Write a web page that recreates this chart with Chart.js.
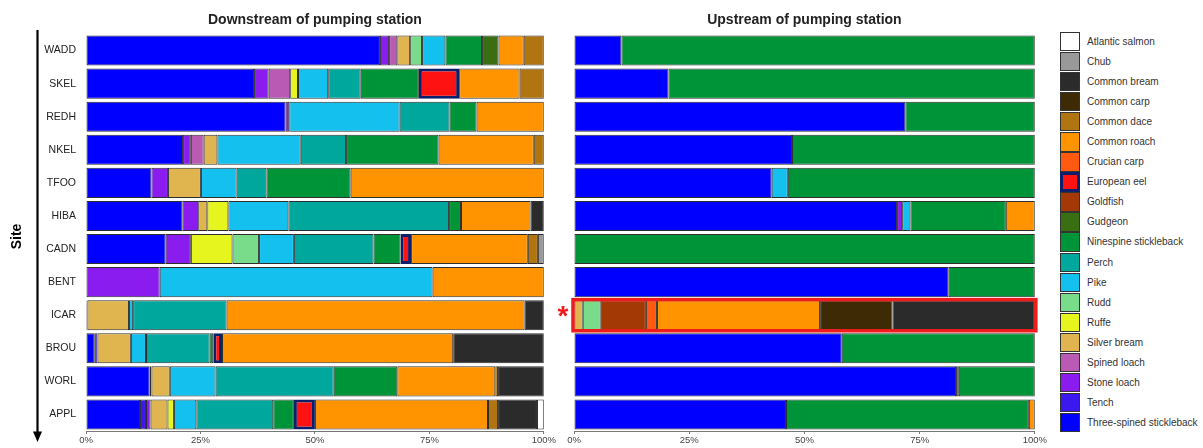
<!DOCTYPE html>
<html lang="en">
<head>
<meta charset="UTF-8">
<title>Fish community composition by site</title>
<script src="https://cdn.jsdelivr.net/npm/chart.js"></script>
<style>
  body { margin: 0; background: #fff; font-family: 'Liberation Sans', Arial, sans-serif; }
  #wrap { position: relative; width: 1203px; height: 448px; overflow: hidden; }
  #down { position: absolute; left: 0; top: 0; }
  #up { position: absolute; left: 548px; top: 0; }
  #legend { position: absolute; left: 1060px; top: 32px; }
  .item { height: 20.06px; display: flex; align-items: flex-start; }
  .sw { width: 20px; height: 19.3px; box-sizing: border-box; border: 1px solid #333; }
  .lab { margin-left: 7px; font-size: 10px; color: #333; line-height: 19px; white-space: nowrap; }
</style>
</head>
<body>
<div id="wrap">
  <canvas id="down" width="557" height="448"></canvas>
  <canvas id="up" width="500" height="448"></canvas>
  <div id="legend"></div>
</div>
<script>
// sites, top to bottom
const sites = ['WADD', 'SKEL', 'REDH', 'NKEL', 'TFOO', 'HIBA', 'CADN', 'BENT', 'ICAR', 'BROU', 'WORL', 'APPL'];

// stacking order, left to right (legend shows it reversed)
const species = [
  'Three-spined stickleback', 'Tench', 'Stone loach', 'Spined loach', 'Silver bream',
  'Ruffe', 'Rudd', 'Pike', 'Perch', 'Ninespine stickleback', 'Gudgeon', 'Goldfish',
  'European eel', 'Crucian carp', 'Common roach', 'Common dace', 'Common carp',
  'Common bream', 'Chub', 'Atlantic salmon'
];

const colours = [
  '#0000fe', '#3a18ee', '#8a1cf0', '#b95bb5', '#e0b44e',
  '#e6f51e', '#79dc8a', '#14c0ee', '#00a79d', '#009438', '#3a6e12', '#a33a06',
  '#ff1212', '#ff5a10', '#ff9400', '#b07410', '#3f2a06',
  '#2b2b2b', '#999999', '#ffffff'
];

// % of catch per species (rows follow `species`, columns follow `sites`)
const downstreamPct = [
  [64.2, 36.7, 43.6, 21.2, 14.3, 21.1, 17.4, 0, 0.3, 1.8, 13.9, 11.8], // three-spined stickleback
  [0, 0, 0, 0, 0, 0, 0, 0, 0, 0.7, 0.4, 1.3],                           // tench
  [2.0, 3.2, 0.8, 1.7, 3.6, 3.4, 5.5, 16.1, 0, 0, 0, 1.0],              // stone loach
  [1.8, 4.7, 0, 2.8, 0, 0, 0, 0, 0, 0, 0, 0],                           // spined loach
  [2.8, 0, 0, 3.0, 7.2, 2.0, 0, 0, 9.1, 7.3, 4.0, 3.7],                 // silver bream
  [0, 1.7, 0, 0, 0, 4.6, 9.1, 0, 0, 0, 0, 1.4],                         // ruffe
  [2.6, 0, 0, 0, 0, 0, 5.8, 0, 0, 0, 0, 0],                             // rudd
  [5.1, 6.6, 24.1, 18.2, 7.8, 13.1, 7.6, 59.6, 0.9, 3.3, 10.0, 4.9],    // pike
  [0, 7.1, 10.9, 9.9, 6.5, 35.1, 17.4, 0, 20.4, 13.9, 25.8, 16.8],      // perch
  [8.0, 12.7, 5.9, 20.2, 18.4, 2.6, 5.9, 0, 0, 0.8, 13.9, 4.5],         // ninespine stickleback
  [3.6, 0, 0, 0, 0, 0, 0, 0, 0, 0, 0, 0],                               // gudgeon
  [0, 0, 0, 0, 0, 0, 0, 0, 0, 0, 0, 0],                                 // goldfish
  [0, 8.8, 0, 0, 0, 0, 2.3, 0, 0, 1.9, 0, 4.6],                         // european eel
  [0, 0, 0, 0, 0, 0, 0, 0, 0, 0, 0, 0],                                 // crucian carp
  [5.5, 13.2, 14.7, 20.8, 42.2, 15.2, 25.5, 24.3, 65.1, 50.5, 21.4, 37.8], // common roach
  [4.4, 5.3, 0, 2.2, 0, 0, 2.2, 0, 0, 0, 0.6, 2.2],                     // common dace
  [0, 0, 0, 0, 0, 0, 0, 0, 0, 0, 0, 0],                                 // common carp
  [0, 0, 0, 0, 0, 2.9, 0, 0, 4.2, 19.8, 10.0, 8.5],                     // common bream
  [0, 0, 0, 0, 0, 0, 1.3, 0, 0, 0, 0, 0],                               // chub
  [0, 0, 0, 0, 0, 0, 0, 0, 0, 0, 0, 1.5]                                // atlantic salmon
];

const upstreamPct = [
  [10.3, 20.5, 71.9, 47.3, 42.9, 70.1, 0, 81.3, 0, 58.1, 82.9, 46.0],   // three-spined stickleback
  [0, 0, 0, 0, 0, 0, 0, 0, 0, 0, 0, 0],                                 // tench
  [0, 0, 0, 0, 0, 1.1, 0, 0, 0, 0, 0.6, 0],                             // stone loach
  [0, 0, 0, 0, 0, 0, 0, 0, 0, 0, 0, 0],                                 // spined loach
  [0, 0, 0, 0, 0, 0, 0, 0, 1.9, 0, 0, 0],                               // silver bream
  [0, 0, 0, 0, 0, 0, 0, 0, 0, 0, 0, 0],                                 // ruffe
  [0, 0, 0, 0, 0, 0, 0, 0, 3.9, 0, 0, 0],                               // rudd
  [0, 0, 0, 0, 3.5, 1.8, 0, 0, 0, 0, 0, 0],                             // pike
  [0, 0, 0, 0, 0, 0, 0, 0, 0, 0, 0, 0],                                 // perch
  [89.7, 79.5, 28.1, 52.7, 53.6, 20.7, 100, 18.7, 0, 41.9, 16.5, 52.7], // ninespine stickleback
  [0, 0, 0, 0, 0, 0, 0, 0, 0, 0, 0, 0],                                 // gudgeon
  [0, 0, 0, 0, 0, 0, 0, 0, 9.8, 0, 0, 0],                               // goldfish
  [0, 0, 0, 0, 0, 0, 0, 0, 0, 0, 0, 0],                                 // european eel
  [0, 0, 0, 0, 0, 0, 0, 0, 2.4, 0, 0, 0],                               // crucian carp
  [0, 0, 0, 0, 0, 6.3, 0, 0, 35.4, 0, 0, 1.3],                          // common roach
  [0, 0, 0, 0, 0, 0, 0, 0, 0, 0, 0, 0],                                 // common dace
  [0, 0, 0, 0, 0, 0, 0, 0, 15.7, 0, 0, 0],                              // common carp
  [0, 0, 0, 0, 0, 0, 0, 0, 30.9, 0, 0, 0],                              // common bream
  [0, 0, 0, 0, 0, 0, 0, 0, 0, 0, 0, 0],                                 // chub
  [0, 0, 0, 0, 0, 0, 0, 0, 0, 0, 0, 0]                                  // atlantic salmon
];

const xTicks = [0, 25, 50, 75, 100];
const eel = 'European eel';
const eelBorder = '#0b1f6b';

Chart.defaults.font.family = "'Liberation Sans', Arial, sans-serif";
Chart.defaults.color = '#333';

function buildDatasets(rows) {
  return species.map((name, i) => ({
    label: name,
    data: rows[i].map(v => v > 0 ? v : null),
    backgroundColor: colours[i],
    borderColor: name === eel ? eelBorder : '#2e2e2e',
    borderWidth: name === eel ? 3 : 1,
    borderSkipped: false,
    barPercentage: 0.91,
    categoryPercentage: 1
  }));
}

// bold heading centred over the plot area
const panelTitle = {
  id: 'panelTitle',
  afterDraw(chart, args, opts) {
    const { ctx, chartArea } = chart;
    ctx.save();
    ctx.font = "bold 14px 'Liberation Sans', Arial, sans-serif";
    ctx.fillStyle = '#222';
    ctx.textAlign = 'center';
    ctx.textBaseline = 'middle';
    ctx.fillText(opts.text, (chartArea.left + chartArea.right) / 2, 20);
    ctx.restore();
  }
};

// "Site" label with the downward arrow
const siteArrow = {
  id: 'siteArrow',
  afterDraw(chart) {
    const { ctx, chartArea } = chart;
    const x = 37.5;
    ctx.save();
    ctx.strokeStyle = '#000';
    ctx.fillStyle = '#000';
    ctx.lineWidth = 2.2;
    ctx.beginPath();
    ctx.moveTo(x, chartArea.top - 4);
    ctx.lineTo(x, chartArea.bottom + 2);
    ctx.stroke();
    ctx.beginPath();
    ctx.moveTo(x - 4.5, chartArea.bottom + 0.5);
    ctx.lineTo(x + 4.5, chartArea.bottom + 0.5);
    ctx.lineTo(x, chartArea.bottom + 11);
    ctx.closePath();
    ctx.fill();
    ctx.translate(17, (chartArea.top + chartArea.bottom) / 2 + 4);
    ctx.rotate(-Math.PI / 2);
    ctx.font = "bold 14px 'Liberation Sans', Arial, sans-serif";
    ctx.textAlign = 'center';
    ctx.textBaseline = 'middle';
    ctx.fillText('Site', 0, 0);
    ctx.restore();
  }
};

// red box and asterisk around one site's bar
const siteHighlight = {
  id: 'siteHighlight',
  afterDatasetsDraw(chart, args, opts) {
    const idx = sites.indexOf(opts.site);
    if (idx < 0) return;
    const { ctx } = chart;
    const xs = chart.scales.x;
    let bar = null;
    chart.data.datasets.forEach((ds, i) => {
      if (!bar && ds.data[idx] != null) bar = chart.getDatasetMeta(i).data[idx];
    });
    if (!bar) return;
    const half = bar.height / 2;
    const left = xs.getPixelForValue(0) - 1;
    const right = xs.getPixelForValue(100) + 1;
    ctx.save();
    ctx.strokeStyle = '#ee1c1c';
    ctx.lineWidth = 3.5;
    ctx.strokeRect(left, bar.y - half - 0.5, right - left, 2 * half + 1);
    ctx.fillStyle = '#ee1c1c';
    ctx.font = "bold 28px 'Liberation Sans', Arial, sans-serif";
    ctx.textAlign = 'center';
    ctx.textBaseline = 'middle';
    ctx.fillText('*', left - 10, bar.y + 2);
    ctx.restore();
  }
};

function xScale() {
  return {
    stacked: true,
    min: 0,
    max: 100,
    afterBuildTicks: s => { s.ticks = xTicks.map(v => ({ value: v })); },
    ticks: { callback: v => v + '%', font: { size: 9.5 }, color: '#444', padding: 1, maxRotation: 0 },
    grid: { display: true, drawOnChartArea: false, drawTicks: true, tickLength: 3, color: '#777' },
    border: { display: true, color: '#777' },
    afterFit: s => { s.height = 17; }
  };
}

new Chart(document.getElementById('down'), {
  type: 'bar',
  data: { labels: sites, datasets: buildDatasets(downstreamPct) },
  options: {
    indexAxis: 'y',
    responsive: false,
    animation: false,
    layout: { padding: { left: 0, top: 34, right: 10, bottom: 0 } },
    scales: {
      x: xScale(),
      y: {
        stacked: true,
        grid: { display: false, drawTicks: false },
        border: { display: false },
        ticks: { font: { size: 10.5 }, color: '#222', padding: 10 },
        afterFit: s => { s.width = 86; }
      }
    },
    plugins: {
      legend: { display: false },
      tooltip: { enabled: false },
      panelTitle: { text: 'Downstream of pumping station' }
    }
  },
  plugins: [panelTitle, siteArrow]
});

new Chart(document.getElementById('up'), {
  type: 'bar',
  data: { labels: sites, datasets: buildDatasets(upstreamPct) },
  options: {
    indexAxis: 'y',
    responsive: false,
    animation: false,
    layout: { padding: { left: 26, top: 34, right: 11, bottom: 0 } },
    scales: {
      x: xScale(),
      y: { stacked: true, display: false }
    },
    plugins: {
      legend: { display: false },
      tooltip: { enabled: false },
      panelTitle: { text: 'Upstream of pumping station' },
      siteHighlight: { site: 'ICAR' }
    }
  },
  plugins: [panelTitle, siteHighlight]
});

// legend, listed in reverse stacking order
const legendBox = document.getElementById('legend');
species.slice().reverse().forEach(name => {
  const i = species.indexOf(name);
  const row = document.createElement('div');
  row.className = 'item';
  const sw = document.createElement('div');
  sw.className = 'sw';
  sw.style.background = colours[i];
  if (name === eel) sw.style.border = '3px solid ' + eelBorder;
  const lab = document.createElement('span');
  lab.className = 'lab';
  lab.textContent = name;
  row.appendChild(sw);
  row.appendChild(lab);
  legendBox.appendChild(row);
});
</script>
</body>
</html>
